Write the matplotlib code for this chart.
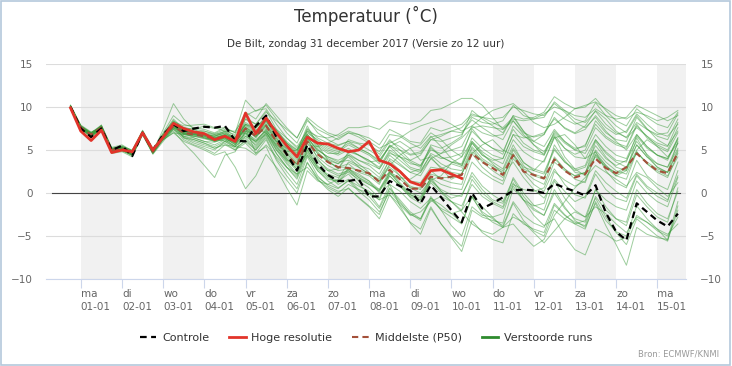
import matplotlib
matplotlib.use("Agg")
import matplotlib.pyplot as plt
from matplotlib.lines import Line2D
from matplotlib.patches import Rectangle
import pandas as pd

# 6-hourly forecast steps, De Bilt run of zondag 31-12-2017 12 uur
times = pd.date_range("2017-12-31 18:00", periods=60, freq="6h")

hoge_resolutie = [9.9, 7.2, 6.1, 7.3, 4.7, 5.0, 4.8, 7.0, 5.0, 6.5, 8.1, 7.5, 7.1,
                  6.9, 6.2, 6.6, 6.0, 9.3, 6.9, 8.7, 7.0, 5.5, 4.2, 6.5, 5.8, 5.7,
                  5.2, 4.8, 5.0, 6.0, 3.8, 3.4, 2.5, 1.3, 0.9, 2.6, 2.7, 2.2, 1.7]

controle = [10.0, 7.5, 6.5, 7.5, 5.0, 5.5, 4.3, 7.0, 5.0, 6.8, 8.0, 7.2, 7.5,
            7.7, 7.6, 7.8, 6.1, 6.0, 7.8, 9.0, 6.5, 4.5, 2.6, 5.6, 3.4, 2.1,
            1.4, 1.4, 1.6, -0.4, -0.4, 1.4, 0.8, 0.3, -1.2, 0.9, -0.5, -2.0,
            -3.4, 0.0, -1.8, -1.2, -0.5, 0.3, 0.4, 0.3, 0.0, 1.1, 0.6, 0.2,
            -0.3, 0.9, -2.3, -4.5, -5.5, -1.2, -2.2, -3.2, -3.9, -2.4]

middelste = [10.0, 7.6, 6.8, 7.6, 5.0, 5.2, 4.6, 7.0, 4.8, 6.5, 7.8, 7.0, 6.8,
             6.6, 6.3, 6.6, 6.0, 7.5, 6.6, 7.8, 6.0, 4.5, 3.2, 6.0, 4.5, 3.6,
             3.0, 2.9, 2.6, 2.3, 1.3, 2.7, 1.6, 0.5, 0.5, 1.9, 1.7, 1.9, 2.1,
             4.6, 3.6, 2.9, 2.1, 4.4, 2.5, 2.1, 1.7, 3.9, 2.6, 1.8, 2.2, 4.0,
             2.9, 2.3, 3.0, 4.6, 3.5, 2.6, 2.3, 4.7]

verstoorde_runs = [
    [10.1, 7.8, 7.0, 7.9, 5.3, 5.6, 4.9, 7.1, 5.0, 6.8, 8.6, 7.4, 7.2, 7.0, 6.8, 7.1, 6.4,
     8.2, 7.5, 9.0, 7.2, 6.0, 5.0, 7.5, 6.4, 5.8, 5.5, 6.0, 5.7,
     5.0, 4.2, 6.0, 5.4, 4.5, 4.8, 6.5, 6.8, 7.2, 7.0, 8.5, 7.6,
     6.8, 6.2, 8.4, 7.0, 6.5, 6.8, 8.8, 7.5, 6.9, 7.4, 9.0, 7.6,
     6.8, 7.2, 9.2, 8.0, 7.0, 6.6, 8.0],
    [9.8, 7.4, 6.5, 7.4, 4.6, 4.8, 4.2, 6.8, 4.5, 6.0, 7.5, 6.4, 6.2, 5.8, 5.4, 6.0, 5.2,
     6.0, 5.0, 6.4, 4.0, 2.5, 1.0, 4.2, 2.0, 0.8, 0.2, 0.5, -0.5,
     -1.5, -2.5, 0.5, -1.0, -2.5, -3.0, -0.8, -1.8, -2.4, -3.5, -0.5, -2.2,
     -3.0, -3.8, -1.0, -2.6, -3.5, -4.0, -1.2, -2.5, -3.6, -4.2, -1.0, -3.2,
     -4.5, -5.0, -1.5, -3.0, -4.2, -5.5, -2.0],
    [10.0, 7.7, 6.9, 7.7, 5.1, 5.0, 4.5, 7.0, 4.9, 6.6, 8.2, 7.2, 7.0, 6.9, 6.5, 6.8, 6.1,
     7.8, 6.5, 8.0, 6.4, 5.0, 3.8, 6.4, 5.0, 4.2, 3.6, 3.8, 3.2,
     2.8, 1.8, 3.8, 2.6, 1.4, 1.2, 3.0, 2.8, 3.4, 3.0, 5.8, 4.4,
     3.6, 2.8, 5.6, 3.5, 2.8, 2.4, 5.2, 3.6, 2.6, 3.0, 5.5, 4.0,
     3.2, 3.8, 6.0, 4.5, 3.4, 3.0, 5.8],
    [10.2, 7.9, 7.1, 7.6, 5.0, 5.4, 5.0, 7.2, 5.1, 6.2, 7.0, 6.0, 5.5, 5.0, 4.4, 4.8, 3.0,
     0.5, 2.0, 4.5, 3.0, 1.5, 0.0, 3.5, 1.8, 1.0, 0.5, 1.5, 0.8,
     0.2, -0.8, 2.0, 0.8, -0.5, -1.2, 1.5, 2.0, 3.5, 4.2, 7.5, 6.0,
     5.2, 4.5, 7.8, 6.6, 6.0, 6.8, 9.5, 8.6, 8.0, 8.4, 10.5, 9.0,
     7.8, 7.0, 9.0, 7.5, 6.2, 5.5, 7.2],
    [9.9, 7.5, 6.7, 7.5, 4.8, 5.2, 4.7, 6.9, 4.7, 6.4, 8.0, 7.6, 7.4, 7.8, 7.5, 7.6, 7.0,
     10.8, 9.5, 10.2, 8.6, 7.0, 5.8, 8.4, 7.4, 6.8, 6.2, 7.0, 6.5,
     5.8, 4.5, 6.2, 5.0, 3.8, 3.2, 5.4, 4.2, 3.6, 3.2, 6.0, 4.8,
     4.0, 3.4, 6.2, 4.8, 4.0, 3.6, 6.5, 5.2, 4.5, 5.0, 7.6, 6.4,
     5.6, 5.2, 7.8, 6.6, 5.8, 5.4, 8.2],
    [10.0, 7.6, 6.8, 7.8, 5.2, 5.3, 4.4, 7.1, 4.9, 6.9, 8.4, 7.0, 6.4, 6.0, 5.9, 6.4, 5.6,
     7.0, 5.8, 7.2, 5.0, 3.4, 2.0, 5.0, 3.0, 2.0, 1.4, 2.2, 1.0,
     0.0, -1.6, 1.0, -1.5, -3.5, -4.8, -1.8, -3.6, -5.0, -6.2, -2.0, -2.8,
     -3.2, -3.5, 0.5, -0.8, -1.5, -1.2, 2.5, 1.5, 0.8, 1.4, 4.5, 3.2,
     2.2, 2.8, 5.6, 4.2, 3.0, 2.4, 5.0],
    [10.1, 7.7, 6.9, 7.6, 4.9, 5.1, 4.8, 7.0, 4.8, 6.5, 7.8, 7.1, 7.0, 7.2, 6.9, 7.4, 6.6,
     7.2, 6.8, 8.2, 7.0, 5.6, 4.6, 7.0, 6.2, 5.4, 5.0, 5.8, 5.2,
     4.6, 3.8, 5.5, 5.0, 4.4, 4.6, 6.2, 6.0, 6.4, 6.8, 8.8, 8.2,
     8.0, 8.4, 10.2, 9.0, 8.6, 8.8, 10.6, 9.6, 8.6, 8.2, 9.5, 8.0,
     7.0, 6.5, 8.2, 7.4, 6.8, 7.0, 9.2],
    [9.9, 7.5, 6.6, 7.5, 4.9, 5.0, 4.3, 6.8, 4.6, 6.3, 7.6, 6.8, 6.7, 6.4, 6.0, 6.3, 5.8,
     6.8, 6.0, 7.4, 5.4, 3.8, 2.6, 5.2, 3.5, 2.6, 2.0, 2.4, 1.6,
     1.0, 0.2, 2.0, 0.8, -0.4, -0.8, 1.2, 0.0, -1.0, -1.5, 1.0, -0.4,
     -1.2, -1.8, 0.8, -0.8, -2.0, -2.6, 0.0, -1.8, -3.0, -3.4, -0.6, -2.8,
     -4.6, -6.0, -3.0, -4.0, -5.0, -5.6, -1.5],
    [10.0, 7.6, 6.7, 7.7, 5.0, 5.5, 4.9, 7.3, 5.2, 6.7, 8.0, 6.8, 6.6, 6.3, 6.0, 6.6, 5.9,
     7.6, 6.4, 7.9, 6.0, 4.4, 3.2, 6.6, 4.8, 3.6, 3.0, 3.4, 2.4,
     2.0, 1.0, 3.4, 2.0, 0.8, 0.4, 2.6, 1.6, 1.2, 1.0, 4.6, 3.0,
     2.0, 1.4, 5.0, 3.2, 2.0, 1.6, 5.6, 3.8, 2.4, 2.2, 6.0, 4.2,
     3.0, 2.6, 6.4, 4.4, 3.0, 2.4, 6.0],
    [10.1, 7.8, 7.0, 7.8, 5.1, 5.3, 4.6, 7.0, 4.9, 6.6, 8.3, 7.8, 7.9, 8.0, 7.6, 7.2, 6.8,
     8.8, 8.0, 9.4, 8.4, 7.4, 6.4, 8.8, 7.8, 7.0, 6.6, 7.2, 6.8,
     6.4, 5.6, 7.4, 6.8, 6.0, 5.8, 7.6, 7.2, 7.6, 8.0, 9.2, 8.8,
     8.2, 7.6, 8.8, 7.2, 6.0, 5.4, 7.4, 6.0, 5.0, 4.6, 6.8, 5.4,
     4.4, 4.0, 6.6, 5.2, 4.4, 4.0, 6.4],
    [9.8, 7.4, 6.6, 7.4, 4.7, 4.9, 4.4, 6.9, 4.7, 6.4, 7.4, 6.6, 6.2, 5.8, 5.2, 5.6, 5.0,
     5.8, 4.6, 6.2, 3.8, 2.0, 0.5, 3.6, 1.6, 0.4, -0.4, 0.6, -0.6,
     -1.6, -3.0, -0.2, -1.8, -3.4, -4.2, -1.6, -3.6, -5.2, -6.8, -3.2, -4.6,
     -5.4, -5.8, -2.4, -3.6, -4.2, -4.6, -1.4, -2.6, -3.4, -3.8, -0.4, -2.0,
     -3.0, -3.4, 0.4, -1.2, -2.4, -3.0, 0.2],
    [10.0, 7.6, 6.9, 7.5, 5.0, 5.1, 4.7, 7.1, 4.8, 6.5, 8.1, 7.3, 7.1, 6.8, 6.6, 7.0, 6.2,
     8.0, 7.2, 8.6, 6.8, 5.4, 4.4, 7.2, 5.8, 5.0, 4.6, 5.2, 4.4,
     3.8, 2.8, 4.8, 3.8, 2.8, 2.4, 4.6, 4.0, 4.2, 4.6, 7.2, 6.0,
     5.2, 4.8, 7.4, 5.8, 5.0, 4.6, 7.0, 5.8, 5.0, 5.6, 8.0, 6.6,
     5.8, 5.4, 8.0, 6.4, 5.6, 5.0, 7.6],
    [10.2, 7.8, 6.9, 7.6, 5.2, 5.4, 4.9, 7.2, 5.0, 6.8, 7.9, 6.6, 6.4, 6.0, 5.6, 6.2, 5.4,
     6.4, 5.2, 6.8, 4.6, 3.0, 1.8, 4.8, 2.8, 1.8, 1.2, 2.6, 1.4,
     0.6, -0.6, 2.4, 1.0, -0.2, -0.8, 1.8, 0.2, -1.0, -2.0, 1.6, 0.0,
     -1.0, -1.6, 1.8, 0.0, -1.4, -2.0, 1.4, -0.6, -2.0, -2.8, 0.4, -1.6,
     -3.0, -3.8, -0.2, -1.6, -2.8, -3.4, 0.6],
    [10.0, 7.5, 6.8, 7.9, 5.1, 4.9, 4.5, 7.0, 4.9, 6.2, 7.4, 6.2, 5.6, 5.2, 4.6, 5.6, 5.4,
     8.6, 8.0, 9.6, 7.4, 5.8, 4.8, 7.8, 5.6, 3.8, 2.8, 4.4, 3.4,
     2.4, 1.2, 4.0, 3.2, 2.4, 2.8, 5.6, 5.2, 5.8, 6.6, 9.6, 8.6,
     7.8, 7.0, 9.0, 7.2, 5.6, 4.4, 6.6, 4.2, 2.8, 2.0, 4.8, 2.6,
     1.2, 0.6, 3.8, 2.0, 1.0, 0.4, 3.6],
    [9.9, 7.6, 6.8, 7.6, 5.0, 5.2, 4.6, 6.9, 4.8, 6.6, 7.9, 7.0, 6.9, 6.7, 6.3, 6.7, 6.0,
     7.4, 6.6, 7.6, 5.8, 4.2, 3.0, 5.8, 4.2, 3.2, 2.6, 2.8, 2.0,
     1.4, 0.4, 2.6, 1.2, 0.0, -0.4, 1.8, 1.0, 0.6, 0.4, 3.6, 2.4,
     1.6, 1.0, 4.0, 2.6, 1.6, 1.0, 4.2, 2.8, 1.6, 1.2, 4.4, 3.0,
     2.0, 1.6, 4.8, 3.4, 2.4, 1.8, 4.6],
    [10.1, 7.7, 7.0, 7.7, 5.1, 5.2, 4.8, 7.1, 4.9, 6.5, 8.1, 7.2, 7.0, 6.9, 6.7, 6.9, 6.3,
     7.9, 7.0, 8.4, 6.6, 5.2, 4.0, 6.8, 5.6, 4.8, 4.4, 5.0, 4.4,
     3.8, 3.0, 5.0, 4.2, 3.4, 3.2, 5.0, 4.6, 5.0, 5.4, 7.8, 7.0,
     6.6, 6.8, 9.0, 8.6, 8.8, 9.4, 11.2, 10.4, 9.8, 10.0, 11.0, 9.6,
     8.4, 7.8, 9.8, 8.8, 8.0, 7.6, 9.4],
    [10.0, 7.5, 6.7, 7.5, 4.9, 5.1, 4.5, 7.0, 4.7, 6.4, 7.7, 6.9, 6.8, 6.5, 6.1, 6.4, 5.7,
     7.0, 5.4, 7.0, 5.2, 3.6, 2.2, 5.0, 3.2, 2.0, 1.0, 1.6, 0.4,
     -0.4, -1.8, 0.6, -0.8, -2.2, -3.0, -0.4, -2.0, -3.8, -5.0, -1.6, -2.6,
     -2.8, -2.4, 1.0, 0.4, 0.2, 0.6, 3.6, 2.6, 2.0, 2.4, 5.0, 3.6,
     2.6, 2.2, 4.8, 3.4, 2.6, 2.0, 4.2],
    [10.0, 7.7, 6.8, 7.6, 4.8, 5.0, 4.4, 6.9, 4.6, 6.2, 7.2, 5.8, 4.6, 3.2, 1.8, 4.4, 4.8,
     7.2, 6.6, 8.4, 6.4, 4.6, 3.4, 6.0, 4.6, 3.8, 3.4, 4.6, 3.8,
     3.2, 2.2, 4.4, 3.4, 2.4, 2.0, 4.0, 3.0, 2.4, 2.2, 5.2, 3.6,
     2.6, 1.8, 4.4, 2.4, 1.0, 0.2, 2.8, 1.0, -0.2, -0.6, 2.2, 0.4,
     -0.6, -1.0, 2.0, 0.6, -0.4, -1.0, 2.6],
    [10.1, 7.6, 6.9, 7.6, 5.0, 5.3, 4.7, 7.0, 4.9, 6.7, 8.4, 7.6, 7.4, 7.2, 6.8, 7.2, 6.4,
     8.6, 7.6, 8.8, 7.0, 5.8, 4.6, 7.4, 6.0, 5.2, 4.8, 5.6, 5.0,
     4.4, 3.4, 5.6, 4.6, 3.6, 3.0, 5.2, 4.2, 3.6, 3.4, 6.4, 5.2,
     4.4, 4.0, 6.8, 5.4, 4.8, 4.4, 7.2, 6.0, 5.2, 5.4, 8.4, 7.0,
     6.2, 6.0, 8.8, 7.4, 6.6, 6.2, 8.6],
    [9.9, 7.5, 6.7, 7.6, 5.0, 5.0, 4.6, 6.9, 4.8, 6.5, 7.8, 6.9, 6.6, 6.4, 6.1, 6.5, 5.8,
     7.2, 6.0, 7.4, 5.6, 4.0, 2.8, 5.4, 3.8, 2.8, 2.2, 2.6, 1.8,
     1.2, 0.2, 2.4, 1.0, -0.2, -0.6, 1.4, 0.4, -0.2, -0.4, 2.4, 0.8,
     -0.2, -1.0, 1.6, -0.4, -1.8, -2.6, 0.4, -1.6, -3.2, -4.0, -1.2, -3.8,
     -6.0, -8.4, -4.0, -4.8, -5.2, -5.4, -1.0],
    [10.0, 7.6, 6.8, 7.7, 5.1, 5.2, 4.6, 7.0, 4.8, 6.5, 7.9, 7.0, 6.8, 6.6, 6.3, 6.5, 6.0,
     7.4, 6.6, 7.8, 6.0, 4.6, 3.4, 6.2, 4.6, 3.6, 3.0, 3.0, 2.6,
     2.2, 1.4, 3.0, 2.0, 0.6, 0.6, 2.2, 1.8, 1.8, 2.2, 4.8, 3.8,
     3.0, 2.4, 4.6, 2.8, 2.2, 1.8, 4.0, 2.8, 2.0, 2.4, 4.2, 3.0,
     2.4, 3.0, 4.6, 3.6, 2.8, 2.4, 4.8],
    [10.0, 7.7, 6.9, 7.5, 5.0, 5.1, 4.6, 7.1, 4.9, 6.6, 8.0, 7.1, 6.9, 6.7, 6.4, 6.7, 6.0,
     7.6, 6.8, 8.0, 6.2, 4.8, 3.6, 6.4, 5.0, 4.2, 3.8, 4.4, 3.8,
     3.4, 2.8, 4.6, 4.2, 3.8, 4.4, 6.2, 6.6, 7.2, 7.6, 9.0, 8.8,
     8.6, 8.8, 10.0, 9.6, 9.2, 9.0, 10.4, 9.4, 8.2, 7.6, 8.8, 7.2,
     6.0, 5.0, 6.8, 5.4, 4.4, 4.0, 6.2],
    [9.9, 7.5, 6.7, 7.4, 4.8, 5.0, 4.4, 6.8, 4.6, 6.3, 7.6, 6.5, 6.0, 5.6, 5.2, 5.8, 5.0,
     6.2, 5.0, 6.6, 4.6, 3.0, 1.6, 4.4, 2.6, 1.4, 0.6, 1.4, 0.2,
     -0.8, -2.2, 0.2, -1.2, -2.4, -3.2, -0.6, -2.0, -2.8, -3.6, -0.4, -2.4,
     -3.4, -4.0, -1.2, -3.2, -4.4, -5.0, -2.0, -3.0, -3.6, -3.2, 0.4, -0.8,
     -1.6, -2.0, 1.4, 0.0, -1.0, -1.6, 1.8],
    [10.2, 7.8, 7.0, 7.8, 5.2, 5.4, 4.8, 7.2, 5.0, 7.0, 9.0, 8.0, 7.6, 7.4, 7.0, 7.6, 7.0,
     9.4, 8.6, 10.4, 9.0, 7.6, 6.4, 8.6, 7.0, 6.2, 5.6, 6.0, 5.2,
     4.6, 3.6, 5.4, 4.2, 3.0, 2.6, 4.4, 3.4, 2.8, 2.6, 5.4, 4.0,
     3.2, 2.6, 5.2, 3.6, 2.6, 2.2, 5.0, 3.6, 2.8, 3.2, 6.2, 4.8,
     3.8, 3.6, 6.8, 5.4, 4.4, 3.8, 6.4],
    [10.0, 7.6, 6.8, 7.6, 5.0, 5.3, 4.7, 7.0, 4.8, 6.6, 8.0, 7.2, 7.0, 6.8, 6.4, 6.8, 6.2,
     7.6, 7.0, 8.4, 7.4, 6.4, 5.4, 7.2, 6.6, 6.4, 6.8, 7.6, 7.6,
     7.8, 7.4, 8.4, 8.2, 8.0, 8.4, 9.6, 9.8, 10.4, 11.0, 11.0, 10.2,
     8.8, 7.4, 8.4, 6.8, 5.6, 4.8, 6.8, 5.2, 4.2, 4.0, 6.2, 4.6,
     3.6, 3.0, 5.6, 4.2, 3.4, 3.0, 5.2],
    [10.0, 7.7, 6.8, 7.6, 5.0, 5.2, 4.6, 7.0, 4.9, 6.6, 7.6, 7.4, 7.0, 6.4, 6.2, 6.6, 6.6,
     7.0, 6.2, 7.2, 6.0, 5.2, 4.4, 5.6, 5.4, 5.8, 6.4, 7.0, 6.8,
     6.0, 5.2, 5.8, 6.4, 7.2, 7.8, 8.2, 8.6, 8.0, 7.2, 7.8, 8.8,
     9.6, 10.0, 10.4, 9.4, 8.2, 7.6, 8.0, 8.8, 9.8, 10.2, 10.6, 9.8,
     9.0, 8.6, 9.4, 9.0, 8.4, 8.8, 9.6],
    [9.9, 7.6, 6.7, 7.7, 5.0, 5.1, 4.5, 7.0, 4.8, 6.4, 7.9, 7.2, 7.0, 6.6, 6.0, 6.2, 5.4,
     6.6, 6.0, 6.8, 5.0, 3.8, 3.4, 4.6, 3.0, 2.2, 1.8, 2.8, 2.2,
     1.4, 0.0, 1.0, 0.2, -1.0, -1.8, -0.6, -1.4, -2.4, -2.0, -0.4, -1.6,
     -2.8, -4.0, -3.6, -5.0, -6.2, -5.4, -2.6, -1.0, 0.6, 1.8, 3.2, 2.4,
     1.6, 0.8, 2.4, 1.8, 0.6, -0.4, 1.2],
    [10.1, 7.6, 6.9, 7.5, 5.1, 5.0, 4.7, 7.1, 4.8, 6.6, 8.0, 6.4, 5.8, 5.4, 5.0, 6.0, 6.2,
     8.0, 7.4, 7.0, 5.6, 4.8, 5.0, 6.4, 4.0, 2.6, 2.8, 4.8, 4.4,
     3.6, 3.8, 5.4, 6.0, 5.2, 3.8, 4.2, 2.8, 1.6, 2.2, 4.6, 5.6,
     6.2, 5.0, 4.4, 3.0, 2.6, 3.8, 6.4, 6.8, 5.6, 4.0, 4.8, 3.2,
     2.0, 2.6, 5.0, 6.2, 5.4, 4.2, 5.8],
    [10.0, 7.5, 6.6, 7.5, 4.9, 5.3, 4.6, 6.9, 4.7, 6.2, 7.0, 6.8, 6.6, 6.8, 6.4, 6.0, 5.4,
     5.2, 4.4, 5.6, 4.2, 3.0, 2.2, 3.0, 1.6, 0.6, 0.0, 1.0, 0.4,
     0.0, -0.8, -0.2, -1.4, -2.6, -2.2, -1.0, -0.4, -1.0, -2.2, -3.6, -4.4,
     -4.8, -4.0, -2.8, -3.4, -4.6, -5.8, -4.4, -3.0, -2.2, -2.8, -1.6, -2.4,
     -3.6, -4.6, -2.8, -3.4, -4.2, -4.8, -3.6],
    [10.0, 7.6, 6.8, 7.6, 5.0, 5.2, 4.6, 7.1, 4.8, 7.4, 10.4, 8.6, 7.4, 6.8, 6.4, 6.8, 5.8,
     7.6, 4.6, 5.4, 2.8, 0.6, -1.4, 2.6, 1.4, 1.0, 1.6, 3.6, 3.0,
     2.2, 1.6, 3.2, 4.4, 5.2, 5.6, 7.0, 6.2, 5.0, 4.2, 6.0, 4.6,
     3.4, 2.2, 3.6, 1.8, 0.4, -0.6, 1.6, 0.2, -1.0, -0.4, 2.6, 1.2,
     0.2, -0.6, 2.2, 0.8, 0.0, -0.8, 2.0],
    [10.0, 7.6, 6.7, 7.7, 5.1, 5.2, 4.7, 7.0, 4.9, 6.5, 8.2, 7.4, 7.2, 6.8, 6.6, 7.0, 6.3,
     8.0, 7.6, 8.6, 7.2, 5.8, 5.0, 6.8, 5.2, 4.0, 3.4, 4.2, 3.0,
     2.2, 1.4, 2.4, 1.8, 1.6, 2.4, 4.0, 4.6, 5.6, 6.4, 7.6, 7.8,
     7.6, 7.4, 8.6, 8.4, 8.6, 9.2, 10.0, 9.6, 9.0, 8.8, 9.8, 9.0,
     8.6, 8.8, 10.2, 9.6, 9.0, 8.4, 9.0],
    [9.9, 7.5, 6.7, 7.6, 4.9, 5.1, 4.5, 6.9, 4.7, 6.4, 7.6, 6.9, 6.8, 6.6, 6.2, 6.4, 5.6,
     6.6, 5.6, 7.0, 5.4, 4.0, 2.8, 4.4, 2.6, 1.6, 1.4, 2.8, 1.8,
     1.0, 0.4, 2.2, 1.6, 0.6, 0.0, 1.6, 0.2, -0.6, -0.2, 2.0, 0.4,
     -0.8, -1.2, 1.2, -0.8, -2.6, -3.8, -3.0, -5.0, -6.6, -7.2, -4.2, -4.8,
     -5.6, -5.2, -2.6, -3.4, -4.4, -5.0, -2.8],
    [10.1, 7.7, 6.9, 7.6, 5.1, 5.3, 4.7, 7.0, 4.9, 6.6, 8.0, 7.0, 6.8, 6.8, 6.6, 7.2, 7.2,
     9.0, 9.6, 9.8, 8.0, 6.4, 5.2, 6.8, 5.4, 4.6, 4.6, 6.2, 5.8,
     5.6, 4.8, 6.8, 6.6, 5.8, 5.2, 6.6, 5.4, 4.0, 3.2, 5.8, 4.4,
     3.8, 4.0, 6.8, 6.4, 6.6, 7.0, 8.6, 7.6, 7.0, 7.8, 9.6, 8.6,
     7.2, 6.4, 7.6, 6.6, 5.4, 4.8, 7.0],
]

days = pd.date_range("2018-01-01", "2018-01-15", freq="D")
day_names = ["ma", "di", "wo", "do", "vr", "za", "zo",
             "ma", "di", "wo", "do", "vr", "za", "zo", "ma"]

GREEN = "#3c9c3c"
RED = "#e2342a"
BROWN = "#a4503a"
TXT = "#666666"

fig = plt.figure(figsize=(7.32, 3.66), dpi=100)
fig.patches.append(Rectangle((0.002, 0.004), 0.995, 0.992, transform=fig.transFigure,
                             fill=False, edgecolor="#b4c8dc", linewidth=1.2))
ax = fig.add_axes([0.0635, 0.2377, 0.8743, 0.5874])

# alternating grey day bands
for k in range(0, len(days), 2):
    ax.axvspan(days[k], days[k] + pd.Timedelta(days=1), color="#f1f1f1", lw=0, zorder=0)

for run in verstoorde_runs:
    ax.plot(times, run, color=GREEN, lw=0.7, alpha=0.5, zorder=2)
ax.plot(times, middelste, color=BROWN, lw=1.5, ls=(0, (3, 2)), zorder=4)
ax.plot(times, controle, color="black", lw=1.6, ls=(0, (3, 2)), zorder=5)
ax.plot(times[:len(hoge_resolutie)], hoge_resolutie, color=RED, lw=2.0, zorder=6)

ax.axhline(0, xmin=0.008, xmax=0.99, color="#444444", lw=0.8, zorder=1)

ax.set_ylim(-10, 15)
ax.set_yticks([-10, -5, 0, 5, 10, 15])
ax.set_xlim(pd.Timestamp("2017-12-31 04:00"), pd.Timestamp("2018-01-15 17:00"))
ax.grid(axis="y", color="#dcdcdc", lw=0.8, zorder=1)
ax.set_axisbelow(True)

ax.set_xticks(days)
ax.set_xticklabels([f"{n}\n{d:%d-%m}" for n, d in zip(day_names, days)],
                   ha="left", multialignment="left", linespacing=1.35)
ax.tick_params(axis="x", length=6.5, width=0.8, color="#ccd6eb", pad=1,
               labelsize=7.5, labelcolor=TXT)
ax.tick_params(axis="y", length=0, pad=10, labelsize=7.5, labelcolor=TXT,
               labelright=True)

for s in ["top", "left", "right"]:
    ax.spines[s].set_visible(False)
ax.spines["bottom"].set_color("#ccd6eb")

fig.text(0.5, 0.94, "Temperatuur (˚C)", ha="center", va="baseline",
         fontsize=12, color="#333333")
fig.text(0.5, 0.872, "De Bilt, zondag 31 december 2017 (Versie zo 12 uur)",
         ha="center", va="baseline", fontsize=7.5, color="#333333")
fig.text(0.982, 0.025, "Bron: ECMWF/KNMI", ha="right", va="baseline",
         fontsize=6, color="#999999")

handles = [
    Line2D([], [], color="black", lw=1.6, ls=(0, (3, 2))),
    Line2D([], [], color=RED, lw=2.0),
    Line2D([], [], color=BROWN, lw=1.5, ls=(0, (3, 2))),
    Line2D([], [], color="#2e8b2e", lw=2.0),
]
fig.legend(handles, ["Controle", "Hoge resolutie", "Middelste (P50)", "Verstoorde runs"],
           loc="center", bbox_to_anchor=(0.5, 0.077), ncol=4, frameon=False,
           fontsize=8, handlelength=1.5, handletextpad=0.5, columnspacing=1.8,
           labelcolor="#333333")

fig.savefig("out.png", dpi=100)
